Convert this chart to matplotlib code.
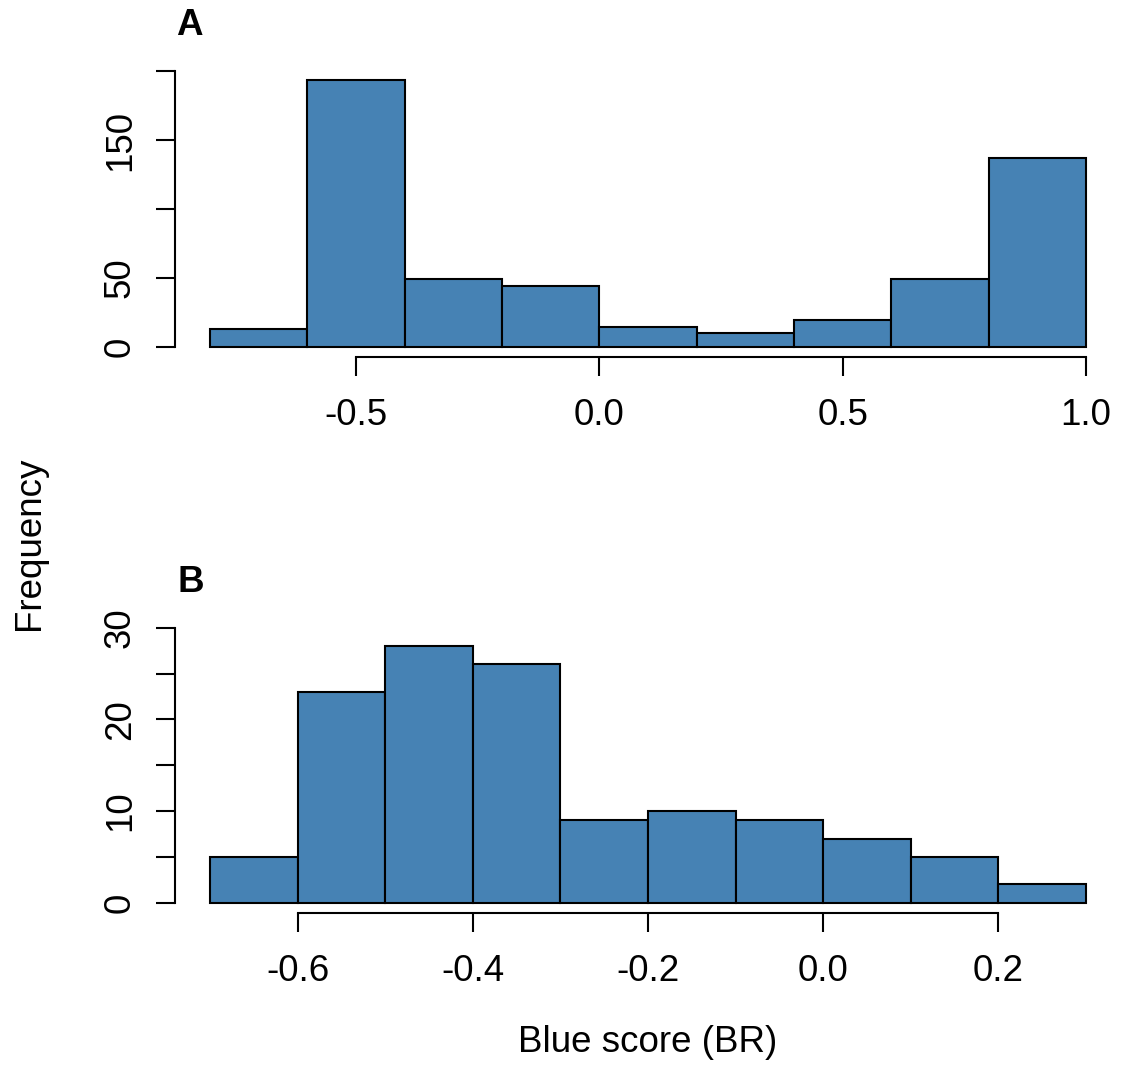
import matplotlib
matplotlib.use("Agg")
import matplotlib.pyplot as plt

plt.rcParams['font.family'] = ['Liberation Sans', 'DejaVu Sans']

# Panel A histogram (bin edges and counts)
a_edges = [-0.8, -0.6, -0.4, -0.2, 0.0, 0.2, 0.4, 0.6, 0.8, 1.0]
a_counts = [13, 194, 49, 44, 14, 10, 19, 49, 137]
a_xticks = [-0.5, 0.0, 0.5, 1.0]
a_xlabels = ['-0.5', '0.0', '0.5', '1.0']
a_yticks = [0, 50, 100, 150, 200]
a_ylabels = ['0', '50', '', '150', '']

# Panel B histogram
b_edges = [-0.7, -0.6, -0.5, -0.4, -0.3, -0.2, -0.1, 0.0, 0.1, 0.2, 0.3]
b_counts = [5, 23, 28, 26, 9, 10, 9, 7, 5, 2]
b_xticks = [-0.6, -0.4, -0.2, 0.0, 0.2]
b_xlabels = ['-0.6', '-0.4', '-0.2', '0.0', '0.2']
b_yticks = [0, 5, 10, 15, 20, 25, 30]
b_ylabels = ['0', '', '10', '', '20', '', '30']

FILL = '#4682B4'
FS = 26.5
LW = 1.5

fig = plt.figure(figsize=(11.25, 10.65), dpi=100)
axA = fig.add_axes([175/1125, 1-357.3/1065, 946/1125, 288.4/1065])
axB = fig.add_axes([175/1125, 1-913.3/1065, 946/1125, 287.1/1065])


def draw(ax, edges, counts, xticks, xlabels, yticks, ylabels, xlim, ylim):
    lefts = edges[:-1]
    widths = [edges[i+1] - edges[i] for i in range(len(counts))]
    ax.bar(lefts, counts, width=widths, align='edge', color=FILL,
           edgecolor='black', linewidth=LW)
    ax.set_xlim(*xlim)
    ax.set_ylim(*ylim)
    for s in ['top', 'right']:
        ax.spines[s].set_visible(False)
    for s in ['left', 'bottom']:
        ax.spines[s].set_linewidth(LW)
    ax.spines['left'].set_bounds(yticks[0], yticks[-1])
    ax.spines['bottom'].set_bounds(xticks[0], xticks[-1])
    ax.set_xticks(xticks)
    ax.set_xticklabels(xlabels)
    ax.set_yticks(yticks)
    ax.set_yticklabels(ylabels)
    ax.tick_params(axis='both', direction='out', length=13.7, width=LW,
                   labelsize=FS)
    ax.tick_params(axis='x', pad=15.5)
    ax.tick_params(axis='y', pad=13, labelrotation=90)
    plt.setp(ax.get_yticklabels(), va='center')


draw(axA, a_edges, a_counts, a_xticks, a_xlabels, a_yticks, a_ylabels,
     (-0.872, 1.072), (-7.76, 201.76))
draw(axB, b_edges, b_counts, b_xticks, b_xlabels, b_yticks, b_ylabels,
     (-0.74, 0.34), (-1.16, 30.16))

fig.text(176/1125, 1-35/1065, 'A', fontsize=FS, fontweight='bold',
         ha='left', va='baseline')
fig.text(177.5/1125, 1-591.7/1065, 'B', fontsize=FS, fontweight='bold',
         ha='left', va='baseline')
fig.text(29/1125, 1-543/1065, 'Frequency', fontsize=FS, rotation=90,
         ha='center', va='center')
fig.text(647.5/1125, 1-1052.3/1065, 'Blue score (BR)', fontsize=FS,
         ha='center', va='baseline')

fig.savefig('out.png', dpi=100)
